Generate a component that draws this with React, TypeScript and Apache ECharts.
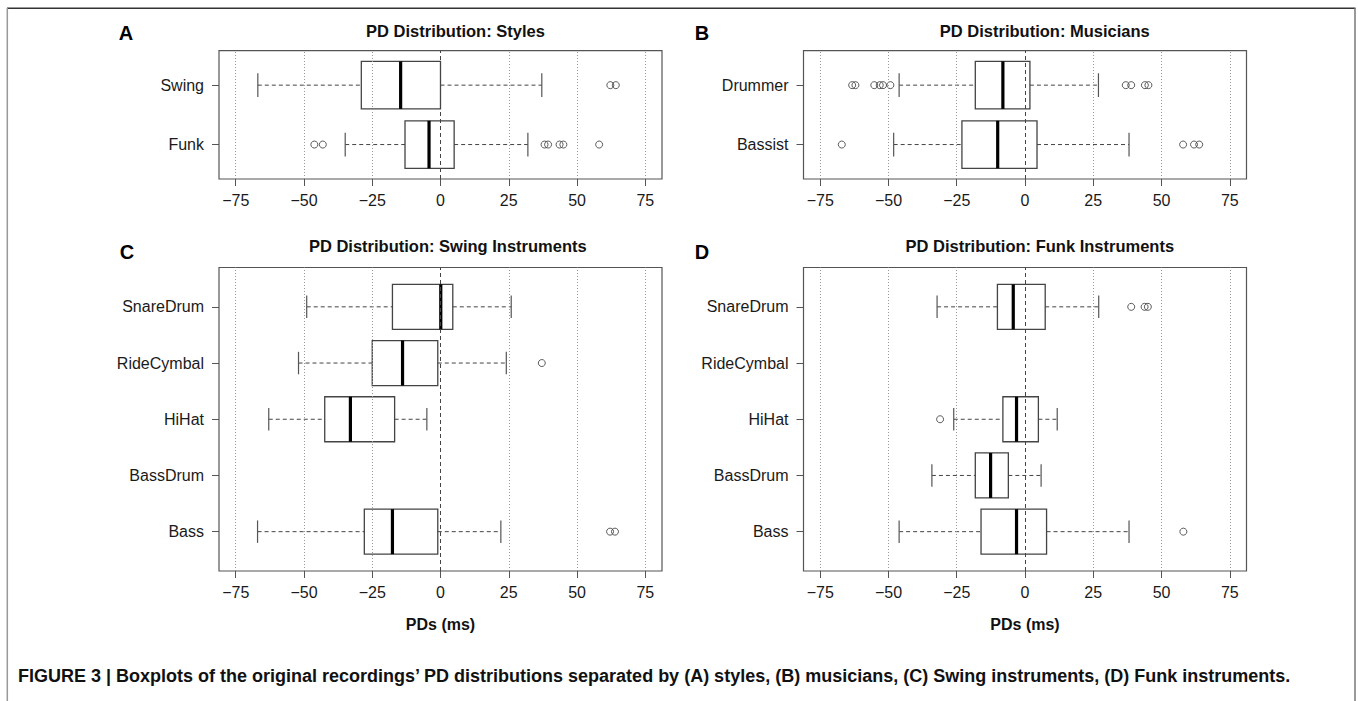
import React, { useEffect, useRef } from "react";
import * as echarts from "echarts";

const FONT = '"Liberation Sans", Arial, Helvetica, sans-serif';

// ---- Data (categories listed bottom to top, as in R horizontal boxplots) ----
const styleCats = ["Funk", "Swing"];
const styleStats = [
  [-34.9, -13.0, -4.2, 5.0, 32.0],
  [-66.9, -29.0, -14.6, 0.0, 37.1],
];
const styleOutliers = [
  [-46.2, -43.1, 38.1, 39.4, 43.6, 45.0, 58.1],
  [62.2, 64.2],
];

const musicianCats = ["Bassist", "Drummer"];
const musicianStats = [
  [-48.1, -23.1, -10.0, 4.4, 38.1],
  [-46.1, -18.2, -8.1, 1.8, 26.9],
];
const musicianOutliers = [
  [-67.1, 57.9, 61.9, 63.8],
  [-63.3, -62.1, -55.2, -53.2, -52.0, -49.3, 36.9, 38.9, 43.9, 45.2],
];

const instrumentCats = ["Bass", "BassDrum", "HiHat", "RideCymbal", "SnareDrum"];
const swingStats = [
  [-67.0, -27.9, -17.6, -1.0, 22.1],
  null,
  [-62.9, -42.4, -33.0, -16.8, -5.0],
  [-52.0, -25.0, -13.9, -1.0, 24.1],
  [-49.0, -17.6, 0.1, 4.5, 25.9],
];
const swingOutliers = [[62.1, 63.9], [], [], [37.1], []];

const funkStats = [
  [-46.1, -16.1, -3.1, 7.9, 38.1],
  [-34.1, -18.2, -12.6, -6.1, 5.9],
  [-26.1, -8.1, -3.1, 4.9, 11.8],
  null,
  [-32.2, -10.1, -4.3, 7.4, 27.0],
];
const funkOutliers = [[58.0], [], [-31.1], [], [38.9, 43.8, 45.0]];

const xTicks = [-75, -50, -25, 0, 25, 50, 75];
const gridValues = [-75, -50, -25, 25, 50, 75];

const panelTitles = [
  "PD Distribution: Styles",
  "PD Distribution: Musicians",
  "PD Distribution: Swing Instruments",
  "PD Distribution: Funk Instruments",
];
const panelLetters = ["A", "B", "C", "D"];
const xAxisTitle = "PDs (ms)";
const caption =
  "FIGURE 3 | Boxplots of the original recordings\u2019 PD distributions separated by (A) styles, (B) musicians, (C) Swing instruments, (D) Funk instruments.";

// ---- Layout ----
const gridsPos = [
  { left: 219, top: 50.7, width: 443, height: 128.3 },
  { left: 803.5, top: 50.7, width: 443, height: 128.3 },
  { left: 219, top: 267.5, width: 443, height: 303.5 },
  { left: 803.5, top: 267.5, width: 443, height: 303.5 },
];
const titlePos = [
  [455.5, 30.7],
  [1044.8, 30.7],
  [447.8, 245.5],
  [1039.8, 245.5],
];
const letterPos = [
  [126, 33.3],
  [702, 33.3],
  [127, 251.7],
  [702, 251.7],
];

const XLIM = 81.12;

function buildOption() {
  const panels = [
    { cats: styleCats, stats: styleStats, outs: styleOutliers, xtitle: false },
    { cats: musicianCats, stats: musicianStats, outs: musicianOutliers, xtitle: false },
    { cats: instrumentCats, stats: swingStats, outs: swingOutliers, xtitle: true },
    { cats: instrumentCats, stats: funkStats, outs: funkOutliers, xtitle: true },
  ];

  const grid: any[] = [];
  const xAxis: any[] = [];
  const yAxis: any[] = [];
  const series: any[] = [];

  panels.forEach((p, i) => {
    const n = p.cats.length;
    grid.push({
      ...gridsPos[i],
      show: true,
      borderColor: "#555",
      borderWidth: 1.2,
      backgroundColor: "transparent",
      containLabel: false,
    });
    xAxis.push({
      type: "value",
      gridIndex: i,
      min: -XLIM,
      max: XLIM,
      position: "bottom",
      axisLine: { show: false, onZero: false },
      splitLine: { show: false },
      axisTick: {
        show: true,
        customValues: xTicks,
        length: 7,
        lineStyle: { color: "#555", width: 1 },
      },
      axisLabel: {
        customValues: xTicks,
        formatter: (v: number) => String(v).replace("-", "\u2212"),
        fontSize: 16,
        fontFamily: FONT,
        color: "#1a1a1a",
        margin: 13,
      },
      name: p.xtitle ? xAxisTitle : "",
      nameLocation: "middle",
      nameGap: 45,
      nameTextStyle: {
        fontSize: 16,
        fontWeight: "bold",
        fontFamily: FONT,
        color: "#111",
      },
    });
    yAxis.push({
      type: "value",
      gridIndex: i,
      min: 0.5 - 0.04 * n,
      max: n + 0.5 + 0.04 * n,
      position: "left",
      axisLine: { show: false, onZero: false },
      splitLine: { show: false },
      axisTick: {
        show: true,
        customValues: p.cats.map((_, k) => k + 1),
        length: 7,
        lineStyle: { color: "#555", width: 1 },
      },
      axisLabel: {
        customValues: p.cats.map((_, k) => k + 1),
        formatter: (v: number) => p.cats[Math.round(v) - 1] || "",
        fontSize: 16,
        fontFamily: FONT,
        color: "#1a1a1a",
        margin: 15,
      },
    });

    const boxData: any[] = [];
    p.stats.forEach((s, k) => {
      if (s) boxData.push([k + 1, ...s]);
    });
    const outData: any[] = [];
    p.outs.forEach((arr, k) => {
      arr.forEach((v) => outData.push([v, k + 1]));
    });

    // outliers + dotted grid lines + dashed zero line
    series.push({
      type: "scatter",
      xAxisIndex: i,
      yAxisIndex: i,
      data: outData,
      symbol: "circle",
      symbolSize: 7,
      silent: true,
      itemStyle: { color: "rgba(0,0,0,0)", borderColor: "#333", borderWidth: 1 },
      z: 4,
      markLine: {
        silent: true,
        symbol: ["none", "none"],
        label: { show: false },
        lineStyle: { color: "#999", type: [1, 2], width: 1 },
        data: [
          ...gridValues.map((v) => ({ xAxis: v })),
          { xAxis: 0, lineStyle: { color: "#444", type: [4, 3], width: 1 } },
        ],
        animation: false,
      },
    });

    series.push({
      type: "custom",
      xAxisIndex: i,
      yAxisIndex: i,
      data: boxData,
      encode: { x: [1, 2, 3, 4, 5], y: 0 },
      silent: true,
      z: 3,
      renderItem: (params: any, api: any) => {
        const y = api.value(0);
        const lo = api.coord([api.value(1), y]);
        const q1 = api.coord([api.value(2), y]);
        const med = api.coord([api.value(3), y]);
        const q3 = api.coord([api.value(4), y]);
        const hi = api.coord([api.value(5), y]);
        const unit = api.size([0, 1])[1];
        const h = unit * 0.4;
        const cap = h * 0.5;
        const cy = lo[1];
        const dash = { stroke: "#444", lineWidth: 1, lineDash: [4, 3] };
        const solid = { stroke: "#555", lineWidth: 1.2 };
        return {
          type: "group",
          children: [
            { type: "line", shape: { x1: lo[0], y1: cy, x2: q1[0], y2: cy }, style: dash },
            { type: "line", shape: { x1: q3[0], y1: cy, x2: hi[0], y2: cy }, style: dash },
            { type: "line", shape: { x1: lo[0], y1: cy - cap, x2: lo[0], y2: cy + cap }, style: solid },
            { type: "line", shape: { x1: hi[0], y1: cy - cap, x2: hi[0], y2: cy + cap }, style: solid },
            {
              type: "rect",
              shape: { x: q1[0], y: cy - h, width: q3[0] - q1[0], height: 2 * h },
              style: { fill: "none", stroke: "#444", lineWidth: 1.3 },
            },
            {
              type: "line",
              shape: { x1: med[0], y1: cy - h, x2: med[0], y2: cy + h },
              style: { stroke: "#000", lineWidth: 3.2 },
            },
          ],
        };
      },
    });
  });

  const graphic: any[] = [
    { type: "line", shape: { x1: 7, y1: 8.3, x2: 1355.5, y2: 8.3 }, style: { stroke: "#333", lineWidth: 1.6 } },
    { type: "line", shape: { x1: 7.3, y1: 8, x2: 7.3, y2: 701 }, style: { stroke: "#999", lineWidth: 1.5 } },
    { type: "line", shape: { x1: 1355, y1: 8, x2: 1355, y2: 701 }, style: { stroke: "#777", lineWidth: 1.5 } },
  ];
  panelTitles.forEach((t, i) => {
    graphic.push({
      type: "text",
      x: titlePos[i][0],
      y: titlePos[i][1],
      style: {
        text: t,
        fill: "#111",
        font: `bold 16.5px ${FONT}`,
        textAlign: "center",
        textVerticalAlign: "middle",
      },
    });
    graphic.push({
      type: "text",
      x: letterPos[i][0],
      y: letterPos[i][1],
      style: {
        text: panelLetters[i],
        fill: "#000",
        font: `bold 20px ${FONT}`,
        textAlign: "center",
        textVerticalAlign: "middle",
      },
    });
  });
  graphic.push({
    type: "text",
    x: 18,
    y: 676,
    style: {
      text: caption,
      fill: "#111",
      font: `bold 18px ${FONT}`,
      textAlign: "left",
      textVerticalAlign: "middle",
    },
  });

  return {
    animation: false,
    backgroundColor: "#fff",
    textStyle: { fontFamily: FONT },
    grid,
    xAxis,
    yAxis,
    series,
    graphic,
  };
}

export default function App() {
  const ref = useRef<HTMLDivElement>(null);
  useEffect(() => {
    if (!ref.current) return;
    const chart = echarts.init(ref.current, null, { renderer: "svg" });
    chart.setOption(buildOption() as any);
    return () => chart.dispose();
  }, []);
  return (
    <div
      ref={ref}
      style={{ position: "absolute", left: 0, top: 0, width: 1358, height: 701 }}
    />
  );
}
